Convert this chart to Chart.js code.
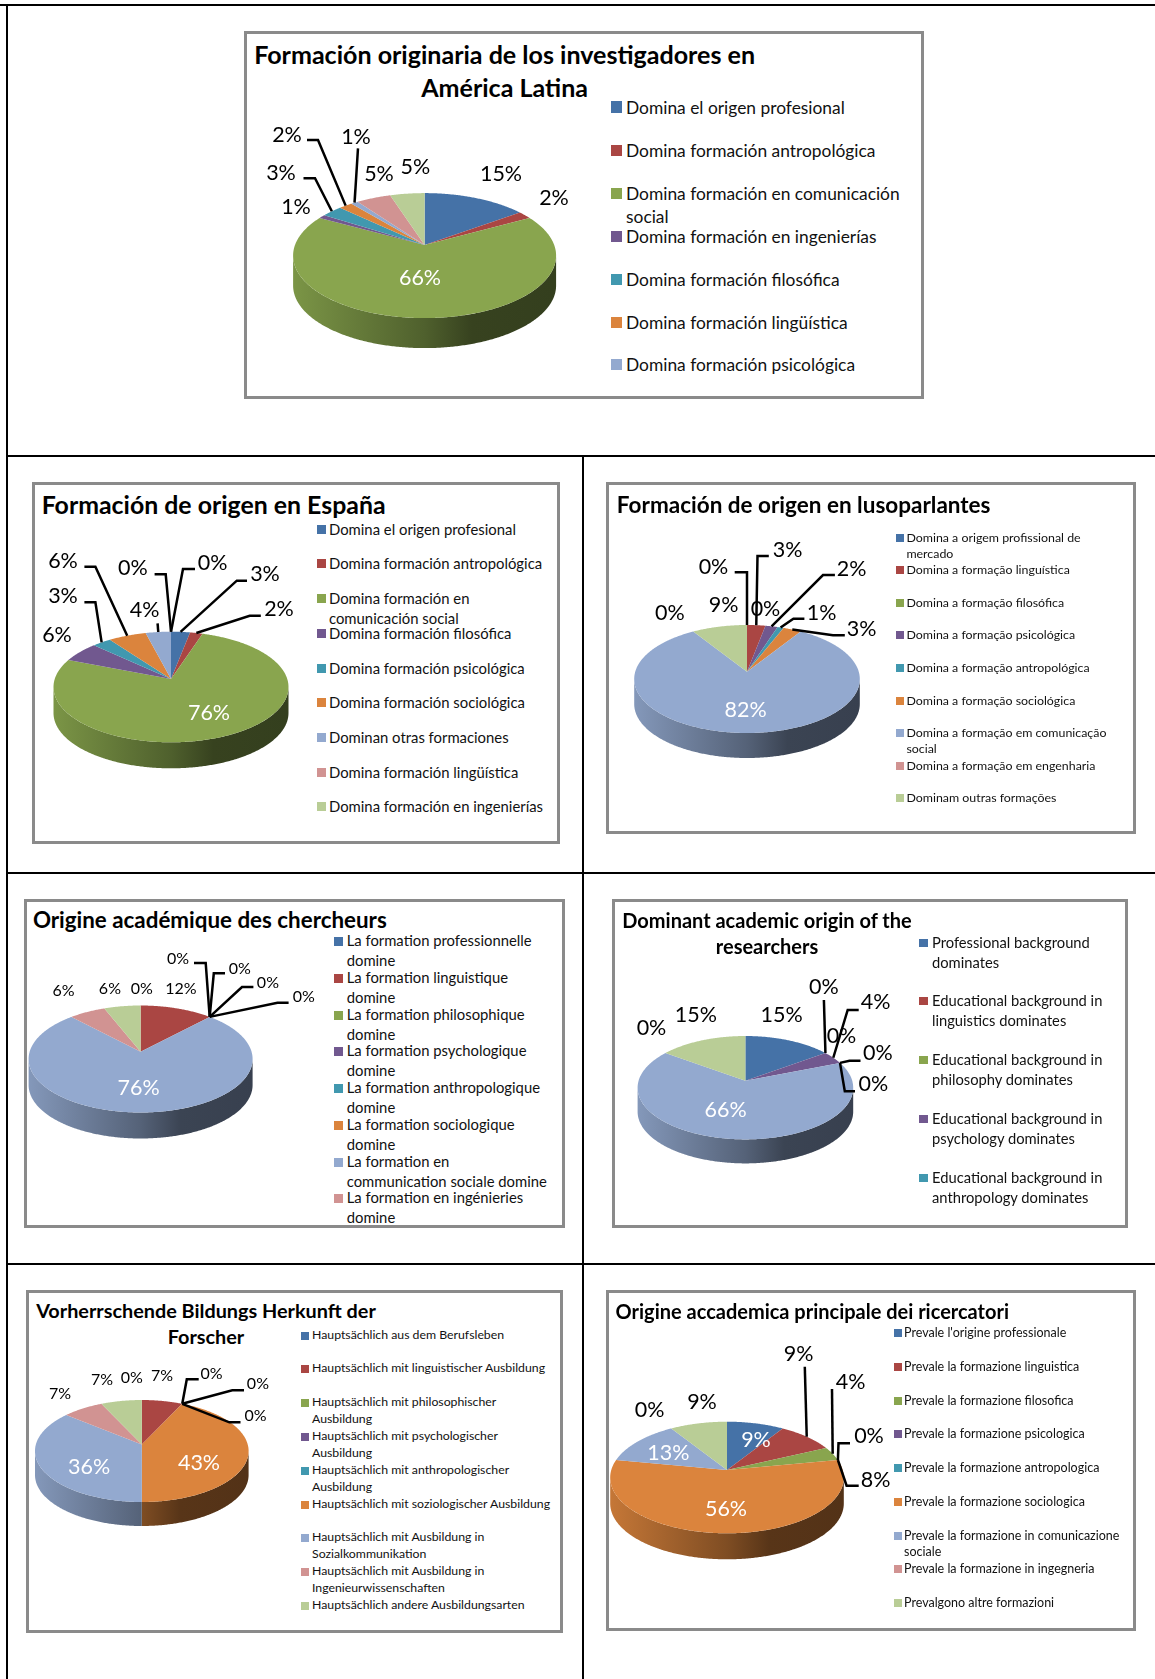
<!DOCTYPE html>
<html>
<head>
<meta charset="utf-8">
<title>Formación de origen</title>
<script src="https://cdn.jsdelivr.net/npm/chart.js@4/dist/chart.umd.min.js"></script>
<style>
  html, body { margin: 0; padding: 0; background: #fff; }
  body { position: relative; width: 1155px; height: 1679px; overflow: hidden; font-family: Lato, sans-serif; color: #000; }
  .rule { position: absolute; background: #000; }
  .panel { position: absolute; box-sizing: border-box; border: 3px solid #8a8a8a; background: #fff; }
  canvas { position: absolute; }
  .title { position: absolute; width: 600px; text-align: center; white-space: pre; font-weight: 700; }
  .entry { position: absolute; white-space: pre; color: #111; }
  .swatch { position: absolute; }
</style>
</head>
<body>
<script>
// series colours, same order in all the charts
const sliceColors = ['#4572A7', '#AA4643', '#89A54E', '#71588F', '#4198AF', '#DB843D', '#93A9CF', '#D19392', '#B9CD96'];

// LATIN AMERICA
const latamCategories = ['Domina el origen profesional', 'Domina formación antropológica', 'Domina formación en comunicación\nsocial', 'Domina formación en ingenierías', 'Domina formación filosófica', 'Domina formación lingüística', 'Domina formación psicológica'];
const latamValues = [15, 2, 66, 1, 3, 2, 1, 5, 5];

// SPAIN
const spainCategories = ['Domina el origen profesional', 'Domina formación antropológica', 'Domina formación en\ncomunicación social', 'Domina formación filosófica', 'Domina formación psicológica', 'Domina formación sociológica', 'Dominan otras formaciones', 'Domina formación lingüística', 'Domina formación en ingenierías'];
const spainValues = [3, 2, 76, 6, 3, 6, 4, 0, 0];

// PORTUGUESE SPEAKERS
const lusoCategories = ['Domina a origem profissional de\nmercado', 'Domina a formação linguística', 'Domina a formação filosófica', 'Domina a formação psicológica', 'Domina a formação antropológica', 'Domina a formação sociológica', 'Domina a formação em comunicação\nsocial', 'Domina a formação em engenharia', 'Dominam outras formações'];
const lusoValues = [0, 3, 0, 2, 1, 3, 82, 0, 9];

// FRENCH
const frenchCategories = ['La formation professionnelle\ndomine', 'La formation linguistique\ndomine', 'La formation philosophique\ndomine', 'La formation psychologique\ndomine', 'La formation anthropologique\ndomine', 'La formation sociologique\ndomine', 'La formation en\ncommunication sociale domine', 'La formation en ingénieries\ndomine'];
const frenchValues = [0, 12, 0, 0, 0, 0, 76, 6, 6];

// ENGLISH
const englishCategories = ['Professional background\ndominates', 'Educational background in\nlinguistics dominates', 'Educational background in\nphilosophy dominates', 'Educational background in\npsychology dominates', 'Educational background in\nanthropology dominates'];
const englishValues = [15, 0, 0, 4, 0, 0, 66, 0, 15];

// GERMAN
const germanCategories = ['Hauptsächlich aus dem Berufsleben', 'Hauptsächlich mit linguistischer Ausbildung', 'Hauptsächlich mit philosophischer\nAusbildung', 'Hauptsächlich mit psychologischer\nAusbildung', 'Hauptsächlich mit anthropologischer\nAusbildung', 'Hauptsächlich mit soziologischer Ausbildung', 'Hauptsächlich mit Ausbildung in\nSozialkommunikation', 'Hauptsächlich mit Ausbildung in\nIngenieurwissenschaften', 'Hauptsächlich andere Ausbildungsarten'];
const germanValues = [0, 7, 0, 0, 0, 43, 36, 7, 7];

// ITALIAN (the picture prints 8% on the empty fifth slice)
const italianCategories = ["Prevale l'origine professionale", 'Prevale la formazione linguistica', 'Prevale la formazione filosofica', 'Prevale la formazione psicologica', 'Prevale la formazione antropologica', 'Prevale la formazione sociologica', 'Prevale la formazione in comunicazione\nsociale', 'Prevale la formazione in ingegneria', 'Prevalgono altre formazioni'];
const italianValues = [9, 9, 4, 0, 0, 56, 13, 0, 9];
const italianLabels = ['9%', '9%', '4%', '0%', '8%', '56%', '13%', '0%', '9%'];

// LAYOUT, in page pixels. box = frame, pie = ellipse centre, half axes, apex lift, wall height
const layouts = [
  {
    categories: latamCategories, values: latamValues,
    box: [244, 31, 924, 399], pie: { cx: 424.6, cy: 255.6, rx: 131.5, ry: 62.5, lift: 10.6, depth: 30 },
    title: 'Formación originaria de los investigadores en\nAmérica Latina', titleFit: 501, titleX: 504.6, titleY: 54, titleGap: 33,
    legendRef: 219, legendX: 626, swatchX: 610.6, swatch: 11.5, legendGap: 23,
    legendY: [107, 150.7, 193.3, 236.3, 279.7, 322.3, 364.7],
    bigFont: 21.5, smallFont: 21.5,
    labelPos: [[501, 174], [554, 198], [420, 278], [296, 206.7], [281, 172.7], [287, 135], [356, 136.7], [379, 174], [415.4, 166.7]],
    leaders: { 4: [[315, 178.3], [303.5, 178.3]], 5: [[318, 140], [307, 140]], 6: [[358, 148.3]] }
  },
  {
    categories: spainCategories, values: spainValues,
    box: [32, 482, 560, 844], pie: { cx: 171, cy: 687, rx: 117.5, ry: 55.3, lift: 8, depth: 26 },
    title: 'Formación de origen en España', titleFit: 344, titleX: 213.6, titleY: 504, titleGap: 26,
    legendRef: 187, legendX: 329, swatchX: 317, swatch: 9, legendGap: 20,
    legendY: [529, 563, 598, 633, 668, 702.3, 737, 772, 806],
    bigFont: 21.5, smallFont: 21.5,
    labelPos: [[265, 574.3], [279, 608.7], [209, 712.7], [57, 635], [63, 596], [63, 561], [144.7, 610.3], [132.8, 568.3], [212.7, 562.7]],
    leaders: { 0: [[236.8, 580.7], [247, 580.7]], 1: [[249.7, 615.7], [260.8, 615.7]], 4: [[95.4, 602.3], [84.4, 602.3]], 5: [[95.4, 566.7], [84.4, 566.7]], 6: [[157.6, 623.3]], 7: [[165.7, 574.3], [154.6, 574.3]], 8: [[183, 569], [195, 569]] }
  },
  {
    categories: lusoCategories, values: lusoValues,
    box: [606, 482, 1136, 834], pie: { cx: 747, cy: 679, rx: 112.8, ry: 54, lift: 7.3, depth: 25 },
    title: 'Formación de origen en lusoparlantes', titleFit: 374, titleX: 803.7, titleY: 505, titleGap: 26,
    legendRef: 163.5, legendRefText: 'Domina a formação linguística', legendX: 906.4, swatchX: 896, swatch: 8, legendGap: 16,
    legendY: [537.7, 569.7, 602.7, 634.7, 667.7, 700.7, 732.7, 765.7, 797.7],
    bigFont: 21.5, smallFont: 21.5,
    labelPos: [[713.5, 566.7], [787.6, 550.3], [765.5, 608.7], [851.7, 568.7], [821.7, 612.7], [861.6, 628.7], [745.7, 710], [669.8, 612.7], [723.7, 604.7]],
    leaders: { 0: [[747, 572.3], [734.7, 572.3]], 1: [[757.5, 556], [768.8, 556]], 3: [[823, 575], [834.9, 575]], 4: [[793.4, 618.7], [804.4, 618.7]], 5: [[833, 635.3], [844.8, 635.3]] }
  },
  {
    categories: frenchCategories, values: frenchValues,
    box: [24, 899, 565, 1228], pie: { cx: 140.6, cy: 1059, rx: 112, ry: 53.5, lift: 7.3, depth: 26 },
    title: 'Origine académique des chercheurs', titleFit: 354, titleX: 209.8, titleY: 920, titleGap: 26,
    legendRef: 185, legendX: 346.7, swatchX: 334, swatch: 9, legendGap: 19.5,
    legendY: [941, 978, 1015, 1051, 1088, 1125, 1162, 1198],
    bigFont: 21.5, smallFont: 16,
    labelPos: [[141.7, 989.3], [181, 989.3], [178, 959.3], [239.7, 969.3], [267.9, 983.3], [303.7, 997.3], [138.7, 1088.3], [63.6, 991.3], [109.9, 989.3]],
    leaders: { 2: [[205.7, 963], [194, 963]], 3: [[213.8, 973.3], [225, 973.3]], 4: [[242, 987], [253.4, 987]], 5: [[277.5, 1002.7], [288.6, 1002.7]] }
  },
  {
    categories: englishCategories, values: englishValues,
    box: [612, 899, 1128, 1228], pie: { cx: 745.4, cy: 1087.7, rx: 107.8, ry: 51.7, lift: 7, depth: 24 },
    title: 'Dominant academic origin of the\nresearchers', titleFit: 290, titleX: 767, titleY: 919.7, titleGap: 26,
    legendRef: 170.5, legendRefText: 'Educational background in', legendX: 932, swatchX: 919, swatch: 8.5, legendGap: 19.5,
    legendY: [943, 1001, 1060, 1119, 1178],
    bigFont: 21.5, smallFont: 21.5,
    labelPos: [[781.7, 1014.7], [823.9, 986.7], [841.5, 1036], [875.6, 1002], [877.8, 1052.7], [873.4, 1084.3], [725.6, 1110.3], [651.5, 1028.3], [695.9, 1014.7]],
    leaders: { 1: [[823.9, 1000]], 3: [[847.7, 1010], [858.7, 1010]], 4: [[849.5, 1060.7], [860.5, 1060.7]], 5: [[844.8, 1091.3], [855, 1091.3]] }
  },
  {
    categories: germanCategories, values: germanValues,
    box: [26, 1290, 563, 1633], pie: { cx: 141.8, cy: 1451, rx: 106.8, ry: 51, lift: 6.5, depth: 24 },
    title: 'Vorherrschende Bildungs Herkunft der\nForscher', titleFit: 340, titleX: 206, titleY: 1310, titleGap: 26.7,
    legendRef: 239, legendRefText: 'Hauptsächlich mit soziologischer Ausbildung', legendX: 312, swatchX: 301, swatch: 8, legendGap: 16.5,
    legendY: [1335.7, 1368.7, 1402.7, 1436.7, 1470.7, 1504.7, 1537.7, 1571.7, 1605.7],
    bigFont: 21.5, smallFont: 16,
    labelPos: [[131.7, 1378.3], [162, 1376.3], [211.6, 1374.3], [257.9, 1384.3], [255.6, 1416.3], [199, 1463.3], [89.2, 1467.3], [60, 1394.3], [102, 1380.3]],
    leaders: { 2: [[186.8, 1379.3], [198.7, 1379.3]], 3: [[232.3, 1390.3], [244, 1390.3]], 4: [[229.4, 1422.3], [240.5, 1422.3]] }
  },
  {
    categories: italianCategories, values: italianValues, labels: italianLabels,
    box: [606, 1290, 1136, 1631], pie: { cx: 727, cy: 1477.5, rx: 116.8, ry: 55.8, lift: 7.5, depth: 26 },
    title: 'Origine accademica principale dei ricercatori', titleFit: 393.5, titleX: 812.3, titleY: 1311, titleGap: 26,
    legendRef: 215.6, legendRefText: 'Prevale la formazione in comunicazione', legendX: 904, swatchX: 894, swatch: 8, legendGap: 16,
    legendY: [1332.7, 1366.7, 1400.7, 1433.7, 1467.7, 1501.7, 1535.7, 1568.7, 1602.7],
    bigFont: 21.5, smallFont: 21.5,
    labelPos: [[756, 1440.3], [798.6, 1353.7], [850.6, 1382.3], [869, 1436.3], [875.6, 1480], [726, 1509.3], [668.4, 1453.3], [649.7, 1410.3], [702, 1402.3]],
    leaders: { 1: [[804.8, 1366.7]], 2: [[832, 1389]], 3: [[838.5, 1443.3], [850, 1443.3]], 4: [[846.6, 1485.7], [858.7, 1485.7]] }
  }
];

// labels that sit on the slice in white
const whiteLabels = [[2], [2], [6], [6], [6], [5, 6], [0, 5, 6]];

const shade = (hex, f) => {
  const n = parseInt(hex.slice(1), 16);
  return `rgb(${Math.round((n >> 16) * f)},${Math.round(((n >> 8) & 255) * f)},${Math.round((n & 255) * f)})`;
};

// the pie is seen in perspective: phi is the true angle from the top, the apex sits above the ellipse centre
const project = (pie, arc, x0, y0, phi) => {
  const k = pie.lift / pie.ry;
  const up = (pie.ry - pie.lift) * (1 + k);
  const w = arc.outerRadius * Math.sqrt(1 - k * k);
  const d = 1 + k * Math.cos(phi);
  return [x0 + arc.x + w * Math.sin(phi) / d, y0 + arc.y - pie.lift - up * Math.cos(phi) / d];
};

const pie3d = {
  id: 'pie3d',
  beforeDatasetsDraw(chart, args, opts) {
    const { pie, box } = opts.layout;
    const ctx = chart.ctx;
    const arcs = chart.getDatasetMeta(0).data;
    ctx.save();
    ctx.translate(-box[0], -box[1]);

    // front wall first
    const k = pie.lift / pie.ry;
    const up = (pie.ry - pie.lift) * (1 + k);
    const right = Math.acos(-pie.lift / (up + pie.lift * k));
    const left = 2 * Math.PI - right;
    arcs.forEach((arc, i) => {
      const from = Math.max(arc.startAngle + Math.PI / 2, right);
      const to = Math.min(arc.endAngle + Math.PI / 2, left);
      if (to <= from) return;
      const pts = [];
      for (let t = from; t < to; t += 0.01) pts.push(project(pie, arc, box[0], box[1], t));
      pts.push(project(pie, arc, box[0], box[1], to));
      const grad = ctx.createLinearGradient(pie.cx - pie.rx, 0, pie.cx + pie.rx, 0);
      grad.addColorStop(0, shade(sliceColors[i], 0.9));
      grad.addColorStop(0.5, shade(sliceColors[i], 0.58));
      grad.addColorStop(0.68, shade(sliceColors[i], 0.4));
      grad.addColorStop(1, shade(sliceColors[i], 0.38));
      ctx.beginPath();
      pts.forEach((p, n) => (n ? ctx.lineTo(p[0], p[1]) : ctx.moveTo(p[0], p[1])));
      pts.slice().reverse().forEach(p => ctx.lineTo(p[0], p[1] + pie.depth));
      ctx.closePath();
      ctx.fillStyle = grad;
      ctx.fill();
    });

    // then the top, wedge by wedge
    arcs.forEach((arc, i) => {
      if (arc.endAngle - arc.startAngle <= 0) return;
      const from = arc.startAngle + Math.PI / 2;
      const to = arc.endAngle + Math.PI / 2;
      ctx.beginPath();
      ctx.moveTo(box[0] + arc.x, box[1] + arc.y - pie.lift);
      for (let t = from; t < to; t += 0.01) {
        const p = project(pie, arc, box[0], box[1], t);
        ctx.lineTo(p[0], p[1]);
      }
      const e = project(pie, arc, box[0], box[1], to);
      ctx.lineTo(e[0], e[1]);
      ctx.closePath();
      ctx.fillStyle = sliceColors[i];
      ctx.fill();
    });
    ctx.restore();
    return false;
  },
  afterDraw(chart, args, opts) {
    const { pie, box, labelPos, leaders, labels, bigFont, smallFont, white } = opts.layout;
    const ctx = chart.ctx;
    const arcs = chart.getDatasetMeta(0).data;
    ctx.save();
    ctx.translate(-box[0], -box[1]);

    ctx.strokeStyle = '#000';
    ctx.lineWidth = 2.5;
    ctx.lineJoin = 'miter';
    Object.keys(leaders).forEach(i => {
      const arc = arcs[i];
      const start = project(pie, arc, box[0], box[1], (arc.startAngle + arc.endAngle) / 2 + Math.PI / 2);
      ctx.beginPath();
      ctx.moveTo(start[0], start[1]);
      leaders[i].forEach(p => ctx.lineTo(p[0], p[1]));
      ctx.stroke();
    });

    ctx.textAlign = 'center';
    ctx.textBaseline = 'middle';
    labels.forEach((text, i) => {
      const isWhite = white.includes(i);
      ctx.font = `${isWhite ? bigFont : smallFont}px Lato`;
      ctx.fillStyle = isWhite ? '#fff' : '#000';
      ctx.fillText(text, labelPos[i][0], labelPos[i][1]);
    });
    ctx.restore();
  }
};

// fit a font size to a width
const measure = document.createElement('canvas').getContext('2d');
const fitSize = (text, width, weight) => {
  measure.font = `${weight} 100px Lato`;
  return 100 * width / measure.measureText(text).width;
};

const addDiv = (cls, x, y, css) => {
  const d = document.createElement('div');
  d.className = cls;
  d.style.left = x + 'px';
  d.style.top = y + 'px';
  Object.assign(d.style, css || {});
  document.body.appendChild(d);
  return d;
};

// table rules
addDiv('rule', 0, 4, { width: '1155px', height: '2px' });
addDiv('rule', 6, 4, { width: '2px', height: '1675px' });
[455, 872, 1263].forEach(y => addDiv('rule', 6, y, { width: '1149px', height: '2px' }));
addDiv('rule', 582, 456, { width: '2px', height: '1223px' });

layouts.forEach((l, n) => {
  const [x0, y0, x1, y1] = l.box;
  addDiv('panel', x0, y0, { width: (x1 - x0) + 'px', height: (y1 - y0) + 'px' });

  // title
  const firstLine = l.title.split('\n')[0];
  const titleSize = fitSize(firstLine, l.titleFit, 700);
  const t = addDiv('title', l.titleX - 300, l.titleY - l.titleGap / 2, { fontSize: titleSize + 'px', lineHeight: l.titleGap + 'px' });
  t.textContent = l.title;

  // legend
  const refText = l.legendRefText || l.categories[0].split('\n')[0];
  const legendSize = fitSize(refText, l.legendRef, 400);
  l.categories.forEach((name, i) => {
    addDiv('swatch', l.swatchX, l.legendY[i] - l.swatch / 2, { width: l.swatch + 'px', height: l.swatch + 'px', background: sliceColors[i] });
    const e = addDiv('entry', l.legendX, l.legendY[i] - l.legendGap / 2, { fontSize: legendSize + 'px', lineHeight: l.legendGap + 'px' });
    e.textContent = name;
  });

  // pie
  const canvas = document.createElement('canvas');
  canvas.width = x1 - x0;
  canvas.height = y1 - y0;
  canvas.style.left = x0 + 'px';
  canvas.style.top = y0 + 'px';
  document.body.appendChild(canvas);

  const p = l.pie;
  new Chart(canvas, {
    type: 'pie',
    data: {
      labels: l.categories,
      datasets: [{ data: l.values, backgroundColor: sliceColors, borderWidth: 0 }]
    },
    options: {
      responsive: false,
      animation: false,
      layout: {
        padding: {
          left: p.cx - p.rx - x0,
          right: x1 - p.cx - p.rx,
          top: p.cy - p.rx - y0,
          bottom: y1 - p.cy - p.rx
        }
      },
      plugins: {
        legend: { display: false },
        title: { display: false },
        tooltip: { enabled: false },
        pie3d: {
          layout: {
            pie: p, box: l.box, labelPos: l.labelPos, leaders: l.leaders,
            labels: l.labels || l.values.map(v => v + '%'),
            bigFont: l.bigFont, smallFont: l.smallFont, white: whiteLabels[n]
          }
        }
      }
    },
    plugins: [pie3d]
  });
});
</script>
</body>
</html>
